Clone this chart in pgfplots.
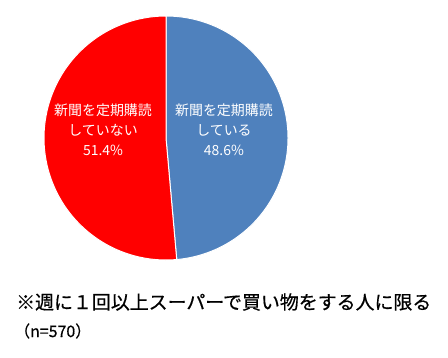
\documentclass[border=0pt]{standalone}
\usepackage{fontspec}
\setmainfont{Noto Sans CJK JP}
\newfontfamily\jpbold{Noto Sans CJK JP}[FakeBold=0.6]
\usepackage{pgfplots}
\pgfplotsset{compat=1.18}
\definecolor{pieblue}{RGB}{79,129,189}
\definecolor{piered}{RGB}{255,0,0}
\pgfmathsetmacro{\vA}{48.6}% 新聞を定期購読している
\pgfmathsetmacro{\vB}{51.4}% 新聞を定期購読していない
\pgfmathsetmacro{\aStart}{90}
\pgfmathsetmacro{\aMid}{90-\vA*3.6}
\pgfmathsetmacro{\aEnd}{\aMid-\vB*3.6}
\begin{document}
\begin{tikzpicture}[x=1bp,y=1bp]
\useasboundingbox (0,0) rectangle (448,357);
\begin{axis}[at={(44bp,97bp)}, anchor=south west, width=244bp, height=244bp,
  scale only axis, xmin=-1, xmax=1, ymin=-1, ymax=1, axis lines=none, clip=false]
\addplot[fill=pieblue, draw=white, line width=1bp, domain=\aMid:\aStart, samples=180, variable=\t]
  ({cos(\t)},{sin(\t)}) -- (axis cs:0,0) -- cycle;
\addplot[fill=piered, draw=white, line width=1bp, domain=\aEnd:\aMid, samples=180, variable=\t]
  ({cos(\t)},{sin(\t)}) -- (axis cs:0,0) -- cycle;
\node[align=center, text=white, font=\fontsize{14}{20}\selectfont] at (axis cs:-0.516,0.066) {新聞を定期購読\\していない\\51.4\%};
\node[align=center, text=white, font=\fontsize{14}{20}\selectfont] at (axis cs:0.475,0.066) {新聞を定期購読\\している\\48.6\%};
\end{axis}
\node[anchor=west, inner sep=0pt, font=\jpbold\fontsize{19}{20}\selectfont] at (16,55) {※週に１回以上スーパーで買い物をする人に限る};
\node[anchor=west, inner sep=0pt, font=\jpbold\fontsize{16}{18}\selectfont] at (14,26) {（n=570）};
\end{tikzpicture}
\end{document}
